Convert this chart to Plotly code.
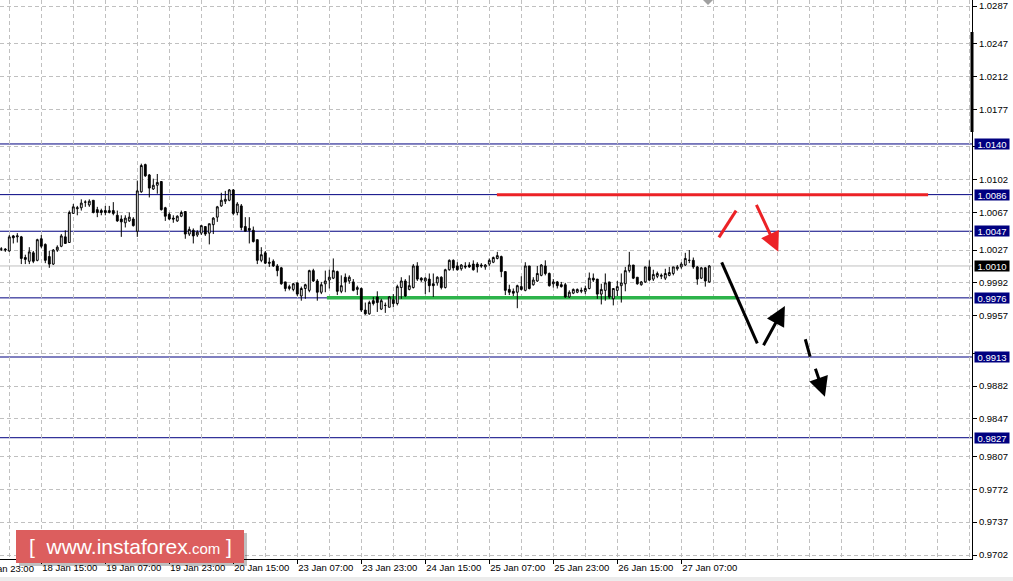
import plotly.graph_objects as go

# ---------------- data (EURUSD-like H1 candles) ----------------
open_ = [1.0028, 1.0028, 1.0026, 1.0042, 1.0041, 1.0041, 1.0019, 1.0015, 1.0024, 1.0016,
         1.0039, 1.0033, 1.0020, 1.0012, 1.0027, 1.0031, 1.0041, 1.0035, 1.0066, 1.0071,
         1.0072, 1.0078, 1.0075, 1.0080, 1.0070, 1.0069, 1.0069, 1.0067, 1.0069, 1.0064,
         1.0060, 1.0056, 1.0058, 1.0060, 1.0047, 1.0089, 1.0118, 1.0107, 1.0092, 1.0096,
         1.0100, 1.0072, 1.0065, 1.0061, 1.0058, 1.0063, 1.0068, 1.0044, 1.0048, 1.0043,
         1.0045, 1.0052, 1.0045, 1.0054, 1.0062, 1.0074, 1.0079, 1.0080, 1.0091, 1.0067,
         1.0074, 1.0052, 1.0050, 1.0048, 1.0038, 1.0016, 1.0024, 1.0014, 1.0015, 1.0010,
         1.0008, 0.9993, 0.9986, 0.9985, 0.9992, 0.9978, 0.9986, 0.9984, 1.0005, 0.9994,
         0.9982, 0.9991, 0.9995, 0.9997, 1.0004, 0.9983, 0.9998, 0.9994, 0.9993, 0.9985,
         0.9986, 0.9963, 0.9959, 0.9973, 0.9977, 0.9964, 0.9968, 0.9966, 0.9974, 0.9970,
         0.9987, 0.9994, 0.9985, 0.9987, 1.0010, 0.9997, 0.9994, 0.9996, 0.9991, 0.9992,
         0.9998, 0.9987, 1.0006, 1.0016, 1.0010, 1.0007, 1.0010, 1.0011, 1.0012, 1.0012,
         1.0011, 1.0009, 1.0012, 1.0014, 1.0018, 1.0020, 1.0004, 0.9985, 0.9983, 0.9982,
         0.9988, 0.9984, 1.0010, 0.9990, 0.9994, 1.0000, 1.0010, 1.0002, 0.9991, 0.9993,
         0.9990, 0.9990, 0.9977, 0.9981, 0.9982, 0.9983, 0.9983, 0.9986, 0.9997, 0.9996,
         0.9980, 0.9984, 0.9993, 0.9975, 0.9984, 0.9989, 0.9991, 1.0005, 1.0011, 0.9998,
         0.9990, 0.9993, 1.0009, 0.9996, 0.9999, 0.9999, 0.9997, 1.0000, 1.0002, 1.0007,
         1.0009, 1.0011, 1.0016, 1.0016, 1.0009, 0.9997, 1.0008, 0.9993]
high_ = [1.0030, 1.0029, 1.0043, 1.0043, 1.0045, 1.0042, 1.0022, 1.0030, 1.0026, 1.0039,
         1.0043, 1.0034, 1.0026, 1.0028, 1.0032, 1.0044, 1.0048, 1.0069, 1.0076, 1.0074,
         1.0081, 1.0080, 1.0081, 1.0080, 1.0073, 1.0071, 1.0074, 1.0074, 1.0078, 1.0069,
         1.0064, 1.0064, 1.0067, 1.0062, 1.0101, 1.0119, 1.0119, 1.0108, 1.0103, 1.0108,
         1.0100, 1.0073, 1.0067, 1.0064, 1.0064, 1.0069, 1.0068, 1.0052, 1.0050, 1.0048,
         1.0053, 1.0052, 1.0055, 1.0062, 1.0074, 1.0088, 1.0090, 1.0092, 1.0092, 1.0078,
         1.0076, 1.0062, 1.0062, 1.0052, 1.0038, 1.0030, 1.0026, 1.0019, 1.0017, 1.0012,
         1.0009, 0.9993, 0.9990, 0.9992, 0.9992, 0.9988, 0.9991, 1.0006, 1.0007, 0.9996,
         0.9993, 1.0005, 1.0006, 1.0018, 1.0005, 1.0000, 1.0002, 1.0000, 0.9996, 0.9989,
         0.9987, 0.9971, 0.9973, 0.9977, 0.9983, 0.9975, 0.9971, 0.9978, 0.9980, 0.9990,
         0.9998, 0.9996, 1.0000, 1.0012, 1.0014, 0.9998, 0.9998, 1.0002, 1.0002, 0.9999,
         0.9999, 1.0007, 1.0017, 1.0017, 1.0014, 1.0012, 1.0014, 1.0014, 1.0016, 1.0014,
         1.0013, 1.0012, 1.0018, 1.0020, 1.0025, 1.0021, 1.0004, 0.9990, 0.9986, 0.9990,
         0.9999, 1.0014, 1.0010, 0.9998, 1.0010, 1.0012, 1.0016, 1.0003, 0.9996, 0.9994,
         0.9993, 0.9992, 0.9984, 0.9986, 0.9986, 0.9987, 0.9989, 1.0003, 1.0002, 0.9996,
         0.9991, 1.0002, 0.9993, 0.9986, 0.9994, 1.0002, 1.0009, 1.0025, 1.0011, 0.9998,
         0.9994, 1.0009, 1.0016, 1.0006, 1.0004, 1.0002, 1.0007, 1.0009, 1.0009, 1.0011,
         1.0014, 1.0024, 1.0027, 1.0019, 1.0010, 1.0009, 1.0009, 1.0011]
low_ = [1.0026, 1.0025, 1.0025, 1.0034, 1.0035, 1.0012, 1.0012, 1.0012, 1.0013, 1.0015,
        1.0029, 1.0013, 1.0008, 1.0011, 1.0025, 1.0030, 1.0034, 1.0035, 1.0066, 1.0064,
        1.0069, 1.0073, 1.0073, 1.0066, 1.0062, 1.0064, 1.0064, 1.0066, 1.0064, 1.0057,
        1.0041, 1.0051, 1.0057, 1.0052, 1.0041, 1.0088, 1.0105, 1.0083, 1.0091, 1.0087,
        1.0069, 1.0058, 1.0059, 1.0056, 1.0057, 1.0062, 1.0039, 1.0042, 1.0034, 1.0041,
        1.0043, 1.0042, 1.0033, 1.0044, 1.0057, 1.0073, 1.0076, 1.0079, 1.0064, 1.0064,
        1.0048, 1.0047, 1.0034, 1.0035, 1.0012, 1.0014, 1.0012, 1.0009, 1.0009, 0.9999,
        0.9990, 0.9983, 0.9984, 0.9983, 0.9978, 0.9973, 0.9975, 0.9982, 0.9993, 0.9973,
        0.9980, 0.9982, 0.9986, 0.9996, 0.9979, 0.9981, 0.9982, 0.9991, 0.9983, 0.9979,
        0.9961, 0.9958, 0.9958, 0.9968, 0.9961, 0.9963, 0.9960, 0.9966, 0.9966, 0.9968,
        0.9975, 0.9977, 0.9984, 0.9986, 0.9994, 0.9993, 0.9980, 0.9982, 0.9977, 0.9989,
        0.9985, 0.9986, 1.0005, 1.0005, 1.0005, 1.0005, 1.0007, 1.0008, 1.0005, 1.0003,
        1.0008, 1.0006, 1.0010, 1.0013, 1.0017, 0.9998, 0.9979, 0.9979, 0.9978, 0.9965,
        0.9984, 0.9983, 0.9985, 0.9989, 0.9993, 0.9999, 1.0000, 0.9988, 0.9987, 0.9986,
        0.9987, 0.9976, 0.9976, 0.9980, 0.9981, 0.9981, 0.9980, 0.9985, 0.9993, 0.9975,
        0.9969, 0.9973, 0.9975, 0.9968, 0.9978, 0.9971, 0.9983, 1.0003, 0.9996, 0.9990,
        0.9989, 0.9992, 0.9994, 0.9994, 0.9997, 0.9996, 0.9995, 0.9999, 1.0000, 1.0005,
        1.0007, 1.0010, 1.0013, 1.0007, 0.9990, 0.9996, 0.9988, 0.9992]
close_ = [1.0028, 1.0027, 1.0041, 1.0040, 1.0042, 1.0018, 1.0017, 1.0025, 1.0015, 1.0038,
          1.0031, 1.0016, 1.0012, 1.0027, 1.0030, 1.0042, 1.0034, 1.0067, 1.0073, 1.0072,
          1.0077, 1.0078, 1.0079, 1.0067, 1.0067, 1.0067, 1.0067, 1.0069, 1.0066, 1.0058,
          1.0057, 1.0061, 1.0062, 1.0053, 1.0090, 1.0117, 1.0106, 1.0093, 1.0096, 1.0099,
          1.0070, 1.0063, 1.0060, 1.0060, 1.0063, 1.0067, 1.0044, 1.0049, 1.0042, 1.0046,
          1.0053, 1.0044, 1.0055, 1.0061, 1.0073, 1.0080, 1.0081, 1.0091, 1.0066, 1.0076,
          1.0051, 1.0047, 1.0048, 1.0036, 1.0016, 1.0022, 1.0013, 1.0013, 1.0010, 1.0005,
          0.9991, 0.9986, 0.9988, 0.9991, 0.9980, 0.9986, 0.9990, 1.0005, 0.9994, 0.9982,
          0.9990, 0.9994, 0.9998, 1.0005, 0.9983, 0.9989, 0.9993, 0.9998, 0.9984, 0.9987,
          0.9963, 0.9959, 0.9971, 0.9970, 0.9971, 0.9973, 0.9968, 0.9977, 0.9970, 0.9988,
          0.9994, 0.9978, 0.9989, 1.0010, 0.9996, 0.9995, 0.9997, 0.9989, 0.9989, 0.9998,
          0.9987, 1.0006, 1.0016, 1.0008, 1.0006, 1.0011, 1.0009, 1.0009, 1.0006, 1.0009,
          1.0010, 1.0011, 1.0016, 1.0019, 1.0021, 1.0004, 0.9984, 0.9982, 0.9981, 0.9989,
          0.9985, 1.0010, 0.9986, 0.9995, 1.0002, 1.0011, 1.0002, 0.9989, 0.9993, 0.9989,
          0.9988, 0.9977, 0.9982, 0.9985, 0.9985, 0.9984, 0.9986, 0.9997, 0.9995, 0.9980,
          0.9985, 0.9992, 0.9977, 0.9986, 0.9988, 0.9992, 1.0005, 1.0011, 0.9997, 0.9991,
          0.9993, 1.0009, 0.9995, 1.0001, 1.0002, 1.0000, 1.0002, 1.0003, 1.0009, 1.0009,
          1.0012, 1.0018, 1.0016, 1.0009, 0.9996, 1.0008, 0.9994, 1.0010]

# time labels (bar index -> label), one label every 16 bars
x_tick_pos = [10, 26, 42, 58, 74, 90, 106, 122, 138, 154, 170]
x_tick_text = ["18 Jan 15:00", "19 Jan 07:00", "19 Jan 23:00", "20 Jan 15:00",
               "23 Jan 07:00", "23 Jan 23:00", "24 Jan 15:00", "25 Jan 07:00",
               "25 Jan 23:00", "26 Jan 15:00", "27 Jan 07:00"]
first_label_pos = -6
first_label_text = "17 Jan 23:00"

# price scale
y_tick_vals = [1.0287, 1.0247, 1.0212, 1.0177, 1.0137, 1.0102, 1.0067, 1.0027, 0.9992,
               0.9957, 0.9917, 0.9882, 0.9847, 0.9807, 0.9772, 0.9737, 0.9702]
y_tick_text = ["1.0287", "1.0247", "1.0212", "1.0177", "", "1.0102", "1.0067", "1.0027",
               "0.9992", "0.9957", "", "0.9882", "0.9847", "0.9807", "0.9772", "0.9737",
               "0.9702"]

# horizontal levels
level_prices = [1.0140, 1.0086, 1.0047, 0.9976, 0.9913, 0.9827]
current_price = 1.0010

# drawn objects (bar index, price)
resistance_line = [(123.9, 1.0086), (231.7, 1.0086)]
support_line = [(81.4, 0.9976), (183.9, 0.9976)]
red_segment = [(179.4, 1.00405), (183.7, 1.00689)]
red_arrow = [(188.6, 1.00768), (194.25, 1.00252)]
black_segment1 = [(180.1, 1.00139), (189.0, 0.99276)]
black_arrow1 = [(190.35, 0.99240), (195.9, 0.99673)]
black_segment2 = [(201.0, 0.99319), (202.2, 0.99133)]
black_arrow2 = [(203.4, 0.99020), (205.9, 0.98707)]

# ---------------- figure ----------------
W, H = 1013, 581
PL, PR, PT, PB = 0, 972, 0, 559  # plot area in pixels
X_RANGE = [-0.325, 242.675]
Y_RANGE = [0.969776, 1.029339]

idx = list(range(len(open_)))
fig = go.Figure(go.Candlestick(
    x=idx, open=open_, high=high_, low=low_, close=close_,
    increasing=dict(line=dict(color="black", width=1), fillcolor="white"),
    decreasing=dict(line=dict(color="black", width=1), fillcolor="black"),
    whiskerwidth=0, showlegend=False, hoverinfo="skip"))

FONT = "Liberation Sans, Arial, sans-serif"
GRID = "#c0c0c0"
DASH = "4px,3px"

fig.update_layout(
    width=W, height=H, autosize=False,
    margin=dict(l=PL, r=W - PR, t=PT, b=H - PB, pad=0),
    paper_bgcolor="white", plot_bgcolor="white",
    font=dict(family=FONT, size=9.5, color="black"),
    showlegend=False, boxgap=0.35, hovermode=False,
)
fig.update_xaxes(
    range=X_RANGE, rangeslider_visible=False, tickmode="array",
    tickvals=x_tick_pos, ticktext=x_tick_text, ticks="outside", ticklen=4,
    tickcolor="black", ticklabelposition="outside right",
    showgrid=True, gridcolor=GRID, griddash=DASH, gridwidth=1,
    minor=dict(tick0=2, dtick=8, showgrid=True, gridcolor=GRID, griddash=DASH,
               gridwidth=1, ticks=""),
    showline=True, linecolor="black", linewidth=1, zeroline=False,
)
fig.update_yaxes(
    side="right", range=Y_RANGE, tickmode="array", tickvals=y_tick_vals,
    ticktext=y_tick_text, ticks="outside", ticklen=4, tickcolor="black",
    showgrid=True, gridcolor=GRID, griddash=DASH, gridwidth=1,
    showline=True, linecolor="black", linewidth=1, zeroline=False,
)

shapes = []
# level lines
for lv in level_prices:
    shapes.append(dict(type="line", xref="paper", yref="y", x0=0, x1=1, y0=lv, y1=lv,
                       line=dict(color="#000080", width=1), layer="between"))
shapes.append(dict(type="line", xref="paper", yref="y", x0=0, x1=1,
                   y0=current_price, y1=current_price,
                   line=dict(color="#c0c0c0", width=1), layer="between"))
# resistance / support
shapes.append(dict(type="line", xref="x", yref="y",
                   x0=resistance_line[0][0], y0=resistance_line[0][1],
                   x1=resistance_line[1][0], y1=resistance_line[1][1],
                   line=dict(color="#ec2226", width=3), layer="between"))
shapes.append(dict(type="line", xref="x", yref="y",
                   x0=support_line[0][0], y0=support_line[0][1],
                   x1=support_line[1][0], y1=support_line[1][1],
                   line=dict(color="#2db34a", width=3.5), layer="between"))
for seg, col in [(red_segment, "#ec2226"), (black_segment1, "black"), (black_segment2, "black")]:
    shapes.append(dict(type="line", xref="x", yref="y", x0=seg[0][0], y0=seg[0][1],
                       x1=seg[1][0], y1=seg[1][1], line=dict(color=col, width=3)))
# black bar on the price scale
shapes.append(dict(type="rect", xref="paper", yref="paper",
                   x0=970.5 / PR, x1=973.5 / PR, y0=1 - 132 / PB, y1=1 - 32 / PB,
                   fillcolor="black", line=dict(width=0)))
# chart shift marker
shapes.append(dict(type="path", xref="paper", yref="paper",
                   path=f"M {703/PR},1 L {713/PR},1 L {708/PR},{1-5/PB} Z",
                   fillcolor="#a0a0a0", line=dict(width=0)))
# logo shadow and box
shapes.append(dict(type="rect", xref="paper", yref="paper",
                   x0=19 / PR, x1=247 / PR, y0=1 - 566 / PB, y1=1 - 533 / PB,
                   fillcolor="rgba(0,0,0,0.25)", line=dict(width=0)))
shapes.append(dict(type="rect", xref="paper", yref="paper",
                   x0=16 / PR, x1=244 / PR, y0=1 - 563 / PB, y1=1 - 530 / PB,
                   fillcolor="#dc5e5e", line=dict(width=0)))
# bottom status band
shapes.append(dict(type="rect", xref="paper", yref="paper",
                   x0=0, x1=W / PR, y0=1 - 581 / PB, y1=1 - 577 / PB,
                   fillcolor="#ececec", line=dict(width=0)))
fig.update_layout(shapes=shapes)

ann = []
for arr, col in [(red_arrow, "#ec2226"), (black_arrow1, "black"), (black_arrow2, "black")]:
    ann.append(dict(x=arr[1][0], y=arr[1][1], ax=arr[0][0], ay=arr[0][1],
                    xref="x", yref="y", axref="x", ayref="y", text="",
                    showarrow=True, arrowhead=2, arrowsize=1.3, arrowwidth=3,
                    arrowcolor=col))
# price labels on the right scale
for lv in level_prices:
    ann.append(dict(x=974 / PR, y=lv, xref="paper", yref="y", xanchor="left",
                    yanchor="middle", text=f"{lv:.4f}", showarrow=False,
                    bgcolor="#000080", font=dict(color="white", size=9.5, family=FONT),
                    width=34, height=10, borderpad=0, align="center"))
ann.append(dict(x=974 / PR, y=current_price, xref="paper", yref="y", xanchor="left",
                yanchor="middle", text=f"{current_price:.4f}", showarrow=False,
                bgcolor="black", font=dict(color="white", size=9.5, family=FONT),
                width=34, height=10, borderpad=0, align="center"))
# first (cut) time label
ann.append(dict(x=(1.3 + 4 * first_label_pos) / PR, y=1 - 569 / PB, xref="paper",
                yref="paper", xanchor="left", yanchor="middle", text=first_label_text,
                showarrow=False, font=dict(size=9.5, family=FONT, color="black")))
# logo text
ann.append(dict(x=130 / PR, y=1 - 546 / PB, xref="paper", yref="paper",
                xanchor="center", yanchor="middle", showarrow=False,
                text="[  www.instaforex<span style='font-size:15px'>.com</span> ]",
                font=dict(size=21, family=FONT, color="white")))
fig.update_layout(annotations=ann)

fig.write_html("out.html", config={"displayModeBar": False},
               post_script="document.body.style.margin='0';")
